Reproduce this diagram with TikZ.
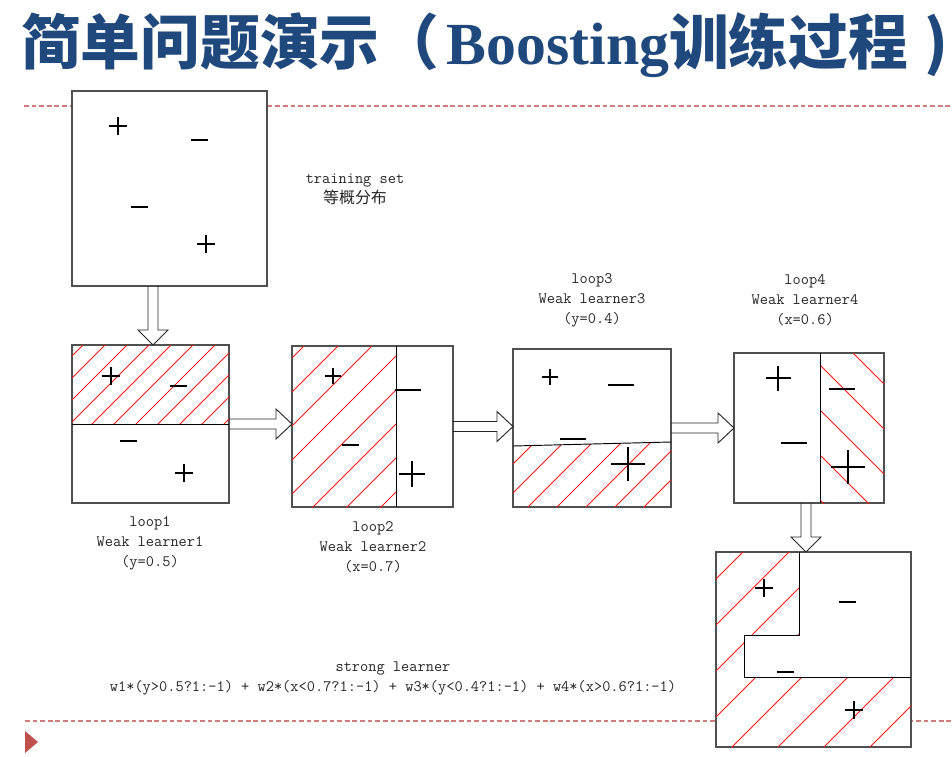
\documentclass[tikz,border=0pt]{standalone}
\usepackage{fontspec}
\newfontfamily\cjk{Noto Sans CJK SC}
\newfontfamily\titleserif{Liberation Serif}
\usetikzlibrary{calc}
\definecolor{titleblue}{RGB}{31,73,125}
\definecolor{rulered}{RGB}{192,80,77}
\definecolor{boxgray}{RGB}{80,80,80}
\definecolor{hatchred}{RGB}{255,20,20}
\newcommand{\pxl}{0.03cm}
% data points: [style]{x}{y}{half size}
\newcommand{\plusmark}[4][thinmark]{\draw[#1] (#2-#4,#3) -- (#2+#4,#3) (#2,#3-#4) -- (#2,#3+#4);}
\newcommand{\minusmark}[4][thinmark]{\draw[#1] (#2-#4,#3) -- (#2+#4,#3);}
\tikzset{
  box/.style={draw=boxgray, line width=1.2pt, fill=white, inner sep=0pt, outer sep=0pt},
  hatch/.style={draw=hatchred, line width=0.75pt},
  split/.style={draw=black, line width=0.8pt},
  thinmark/.style={draw=black, line width=0.9pt},
  thickmark/.style={draw=black, line width=2.5pt},
  ruledash/.style={draw=rulered!75, line width=1.1pt, dash pattern=on 4pt off 2.5pt},
  lbl/.style={font=\ttfamily\fontsize{13.6}{17}\selectfont, text=black!85, align=center, inner sep=0pt},
  hblock/.style={draw=black!85, line width=0.8pt, to path={
    ($(\tikztostart)+(0,-5)$) -- ($(\tikztotarget)+(-16,-5)$) -- ($(\tikztotarget)+(-16,-15)$) -- (\tikztotarget)
    -- ($(\tikztotarget)+(-16,15)$) -- ($(\tikztotarget)+(-16,5)$) -- ($(\tikztostart)+(0,5)$)}},
  vblock/.style={draw=black!85, line width=0.8pt, to path={
    ($(\tikztostart)+(-5,0)$) -- ($(\tikztotarget)+(-5,-15)$) -- ($(\tikztotarget)+(-15,-15)$) -- (\tikztotarget)
    -- ($(\tikztotarget)+(15,-15)$) -- ($(\tikztotarget)+(5,-15)$) -- ($(\tikztostart)+(5,0)$)}}
}
\begin{document}
\begin{tikzpicture}[x=0.03cm, y=-0.03cm]
  \useasboundingbox (0,0) rectangle (952,757);

  % title and rules
  \node[anchor=base west, text=titleblue, inner sep=0pt] (title) at (21,64)
    {\fontsize{51}{60}\selectfont\cjk\bfseries 简单问题演示（\hspace{0.12em}{\titleserif\bfseries Boosting}训练过程\hspace{0.28em})};
  \draw[ruledash] (24,106) -- (952,106);
  \draw[ruledash] (25,721) -- (952,721);
  \fill[rulered] (25,731) -- (38,742) -- (25,753) -- cycle;

  % boxes
  \node[box, minimum width=195*\pxl, minimum height=195*\pxl] (train) at (169.5,188.5) {};
  \node[box, minimum width=157*\pxl, minimum height=158*\pxl] (loop1) at (150.5,424) {};
  \node[box, minimum width=161*\pxl, minimum height=161*\pxl] (loop2) at (372.5,426.5) {};
  \node[box, minimum width=158*\pxl, minimum height=158*\pxl] (loop3) at (592,428) {};
  \node[box, minimum width=150*\pxl, minimum height=150*\pxl] (loop4) at (809,428) {};
  \node[box, minimum width=195*\pxl, minimum height=195*\pxl] (final) at (813.5,649.5) {};

  % hatched halves
  \begin{scope}
    \clip (72,345) rectangle (229,424);
    \foreach \s in {428,450,...,648} \draw[hatch] (\s-440,440) -- (\s-330,330);
  \end{scope}
  \begin{scope}
    \clip (292,346) rectangle (396,507);
    \foreach \s in {650,684,...,888} \draw[hatch] (\s-520,520) -- (\s-330,330);
  \end{scope}
  \begin{scope}
    \clip (513,446) -- (671,442) -- (671,507) -- (513,507) -- cycle;
    \foreach \s in {977,1006,...,1151} \draw[hatch] (\s-520,520) -- (\s-430,430);
  \end{scope}
  \begin{scope}
    \clip (820,353) rectangle (884,503);
    \foreach \d in {-500,-455,...,-320} \draw[hatch] (800,800+\d) -- (900,900+\d);
  \end{scope}
  \begin{scope}
    \clip (716,552) -- (799,552) -- (799,635) -- (744,635) -- (744,677) -- (911,677) -- (911,747) -- (716,747) -- cycle;
    \foreach \s in {1295,1341,...,1617} \draw[hatch] (\s-760,760) -- (\s-540,540);
  \end{scope}

  % split lines
  \draw[split] (loop1.west) -- (loop1.east);
  \draw[split] (396,346) -- (396,507);
  \draw[split] (513,446) -- (671,442);
  \draw[split] (820,353) -- (820,503);
  \draw[split] (799,552) -- (799,635) -- (744,635) -- (744,677) -- (911,677);

  % points
  \plusmark{118}{126}{9}  \minusmark{199}{140}{8.5}
  \minusmark{139}{207}{8.5} \plusmark{206}{244}{9}

  \plusmark{111}{376}{9}  \minusmark{178}{386}{8.5}
  \minusmark{128}{441}{8.5} \plusmark{184}{473}{9}

  \plusmark{333}{376}{8}  \minusmark[thickmark]{408}{390}{13}
  \minusmark{350}{445}{8.5} \plusmark[thickmark]{412}{474}{13}

  \plusmark{550}{377}{8}  \minusmark[thickmark]{621}{385}{13}
  \minusmark[thickmark]{573}{439}{13} \plusmark[thickmark]{628}{464}{17}

  \plusmark[thickmark]{778}{378}{12.5} \minusmark[thickmark]{842}{389}{13}
  \minusmark[thickmark]{794}{443}{13} \plusmark[thickmark]{848}{467}{17}

  \plusmark{764}{588}{9}  \minusmark{847}{602}{8.5}
  \minusmark{785}{672}{8.5} \plusmark{854}{710}{9}

  % labels
  \node[lbl] (trainlbl) at (355,189) {training set\\{\cjk\fontsize{13.6}{17}\selectfont 等概分布}};
  \node[lbl] (lbl1) at (150,543) {loop1\\Weak learner1\\(y=0.5)};
  \node[lbl] (lbl2) at (373,547) {loop2\\Weak learner2\\(x=0.7)};
  \node[lbl] (lbl3) at (592,300) {loop3\\Weak learner3\\(y=0.4)};
  \node[lbl] (lbl4) at (805,300) {loop4\\Weak learner4\\(x=0.6)};
  \node[lbl] (stronglbl) at (393,678) {strong learner\\w1*(y>0.5?1:-1) + w2*(x<0.7?1:-1) + w3*(y<0.4?1:-1) + w4*(x>0.6?1:-1)};

  % block arrows
  \coordinate (trainout) at ($(train.south)+(-16.5,0)$);
  \coordinate (loop1in) at (trainout |- loop1.north);
  \coordinate (loop2in) at (loop1.east -| loop2.west);
  \coordinate (loop3in) at (loop2.east -| loop3.west);
  \coordinate (loop4in) at (loop3.east -| loop4.west);
  \coordinate (loop4out) at ($(loop4.south)+(-3,0)$);
  \coordinate (finalin) at (loop4out |- final.north);
  \draw[vblock] (trainout) to (loop1in);
  \draw[hblock] (loop1.east) to (loop2in);
  \draw[hblock] (loop2.east) to (loop3in);
  \draw[hblock] (loop3.east) to (loop4in);
  \draw[vblock] (loop4out) to (finalin);
\end{tikzpicture}
\end{document}
